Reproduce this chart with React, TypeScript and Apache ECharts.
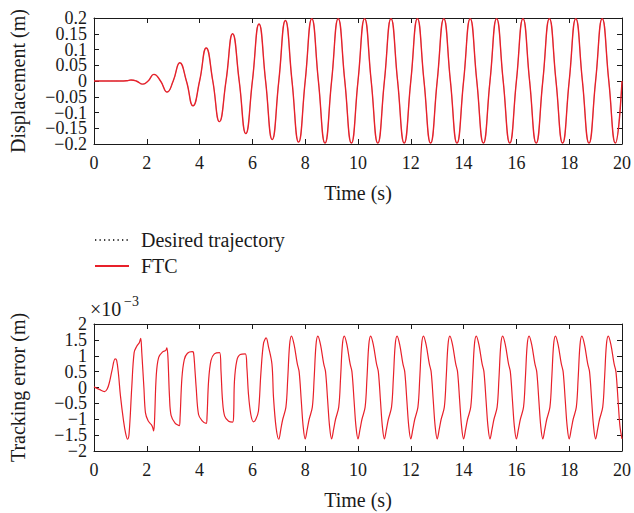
import React, { useEffect, useRef } from "react";
import * as echarts from "echarts";

const timeTicks = { min: 0, max: 20, interval: 2 };
const dispTicks = { min: -0.2, max: 0.2, interval: 0.05 };
const errTicks = { min: -2, max: 2, interval: 0.5 };

const legendNames = ["Desired trajectory", "FTC"];

const dispTime = [
  0, 0.5, 1.0, 1.25, 1.4, 1.6, 1.85, 2.05, 2.27, 2.52, 2.77,
  3.0, 3.25, 3.5, 3.75, 4.0, 4.25, 4.5, 4.75, 5.0, 5.25, 5.5, 5.75,
  6.0, 6.25, 6.5, 6.75, 7.0, 7.25, 7.5, 7.75,
  8.0, 8.25, 8.5, 8.75, 9.0, 9.25, 9.5, 9.75,
  10.0, 10.25, 10.5, 10.75, 11.0, 11.25, 11.5, 11.75,
  12.0, 12.25, 12.5, 12.75, 13.0, 13.25, 13.5, 13.75,
  14.0, 14.25, 14.5, 14.75, 15.0, 15.25, 15.5, 15.75,
  16.0, 16.25, 16.5, 16.75, 17.0, 17.25, 17.5, 17.75,
  18.0, 18.25, 18.5, 18.75, 19.0, 19.25, 19.5, 19.75, 20.0,
];
const dispValue = [
  0, 0, 0, 0.001, 0.003, 0, -0.01, 0, 0.021, 0, -0.035,
  0, 0.058, 0, -0.079, 0, 0.105, 0, -0.129, 0, 0.15, 0, -0.167,
  0, 0.181, 0, -0.186, 0, 0.192, 0, -0.194,
  0, 0.198, 0, -0.197, 0, 0.198, 0, -0.197,
  0, 0.198, 0, -0.197, 0, 0.198, 0, -0.197,
  0, 0.198, 0, -0.197, 0, 0.198, 0, -0.197,
  0, 0.198, 0, -0.197, 0, 0.198, 0, -0.197,
  0, 0.198, 0, -0.197, 0, 0.198, 0, -0.197,
  0, 0.198, 0, -0.197, 0, 0.198, 0, -0.197, 0,
];

const errTime = [
  0, 0.2, 0.4, 0.5, 0.58, 0.68, 0.8, 0.86, 0.93, 1.0, 1.12, 1.2, 1.27, 1.33,
  1.43, 1.52, 1.62, 1.72, 1.77, 1.81, 1.89, 1.95, 2.05, 2.17, 2.22, 2.26,
  2.29, 2.36, 2.45, 2.6, 2.72, 2.76, 2.8, 2.86, 2.92, 3.07, 3.23, 3.26,
  3.33, 3.42, 3.54, 3.72, 3.77, 3.82, 3.87, 3.96, 4.09, 4.25, 4.28, 4.34,
  4.43, 4.56, 4.76, 4.81, 4.87, 4.95, 5.1, 5.25, 5.29, 5.32, 5.41, 5.54,
  5.73, 5.79, 5.85, 5.94, 6.04, 6.13, 6.23, 6.32, 6.42, 6.52, 6.61, 6.74,
  6.8, 6.9, 7.0,
  7.08, 7.15, 7.27, 7.34, 7.41, 7.48, 7.58, 7.7, 7.77, 7.85, 7.92, 8.0,
  8.08, 8.15, 8.27, 8.34, 8.41, 8.48, 8.58, 8.7, 8.77, 8.85, 8.92, 9.0,
  9.08, 9.15, 9.27, 9.34, 9.41, 9.48, 9.58, 9.7, 9.77, 9.85, 9.92, 10.0,
  10.08, 10.15, 10.27, 10.34, 10.41, 10.48, 10.58, 10.7, 10.77, 10.85, 10.92, 11.0,
  11.08, 11.15, 11.27, 11.34, 11.41, 11.48, 11.58, 11.7, 11.77, 11.85, 11.92, 12.0,
  12.08, 12.15, 12.27, 12.34, 12.41, 12.48, 12.58, 12.7, 12.77, 12.85, 12.92, 13.0,
  13.08, 13.15, 13.27, 13.34, 13.41, 13.48, 13.58, 13.7, 13.77, 13.85, 13.92, 14.0,
  14.08, 14.15, 14.27, 14.34, 14.41, 14.48, 14.58, 14.7, 14.77, 14.85, 14.92, 15.0,
  15.08, 15.15, 15.27, 15.34, 15.41, 15.48, 15.58, 15.7, 15.77, 15.85, 15.92, 16.0,
  16.08, 16.15, 16.27, 16.34, 16.41, 16.48, 16.58, 16.7, 16.77, 16.85, 16.92, 17.0,
  17.08, 17.15, 17.27, 17.34, 17.41, 17.48, 17.58, 17.7, 17.77, 17.85, 17.92, 18.0,
  18.08, 18.15, 18.27, 18.34, 18.41, 18.48, 18.58, 18.7, 18.77, 18.85, 18.92, 19.0,
  19.08, 19.15, 19.27, 19.34, 19.41, 19.48, 19.58, 19.7, 19.77, 19.85, 19.92, 20.0,
];
const errValue = [
  0.02, -0.06, -0.13, -0.05, 0.15, 0.53, 0.9, 0.85, 0.4, -0.25, -1.06, -1.45, -1.63, -1.45,
  0, 1.1, 1.3, 1.42, 1.55, 1.1, 0, -0.8, -1.05, -1.17, -1.25, -1.37,
  -1.1, 0.4, 0.95, 1.12, 1.17, 1.25, 0.96, -0.3, -0.88, -1.12, -1.2, -0.95,
  0.3, 0.88, 1.08, 1.13, 1.1, 0.6, 0, -0.85, -1.04, -1.13, -0.94, 0.2,
  0.85, 1.06, 1.1, 0.53, -0.43, -0.9, -1.06, -1.09, -0.85, 0.2, 0.85, 1.04,
  1.06, 0.64, -0.2, -0.85, -1.08, -1.0, -0.74, 0.43, 1.38, 1.56, 1.28, 0.74,
  -0.32, -1.28, -1.63,
  -1.3, -1.0, -0.62, 0.3, 1.35, 1.62, 1.35, 0.75, 0.5, -0.4, -1.2, -1.62,
  -1.3, -1.0, -0.62, 0.3, 1.35, 1.62, 1.35, 0.75, 0.5, -0.4, -1.2, -1.62,
  -1.3, -1.0, -0.62, 0.3, 1.35, 1.62, 1.35, 0.75, 0.5, -0.4, -1.2, -1.62,
  -1.3, -1.0, -0.62, 0.3, 1.35, 1.62, 1.35, 0.75, 0.5, -0.4, -1.2, -1.62,
  -1.3, -1.0, -0.62, 0.3, 1.35, 1.62, 1.35, 0.75, 0.5, -0.4, -1.2, -1.62,
  -1.3, -1.0, -0.62, 0.3, 1.35, 1.62, 1.35, 0.75, 0.5, -0.4, -1.2, -1.62,
  -1.3, -1.0, -0.62, 0.3, 1.35, 1.62, 1.35, 0.75, 0.5, -0.4, -1.2, -1.62,
  -1.3, -1.0, -0.62, 0.3, 1.35, 1.62, 1.35, 0.75, 0.5, -0.4, -1.2, -1.62,
  -1.3, -1.0, -0.62, 0.3, 1.35, 1.62, 1.35, 0.75, 0.5, -0.4, -1.2, -1.62,
  -1.3, -1.0, -0.62, 0.3, 1.35, 1.62, 1.35, 0.75, 0.5, -0.4, -1.2, -1.62,
  -1.3, -1.0, -0.62, 0.3, 1.35, 1.62, 1.35, 0.75, 0.5, -0.4, -1.2, -1.62,
  -1.3, -1.0, -0.62, 0.3, 1.35, 1.62, 1.35, 0.75, 0.5, -0.4, -1.2, -1.62,
  -1.3, -1.0, -0.62, 0.3, 1.35, 1.62, 1.35, 0.75, 0.5, -0.4, -1.2, -1.62,
];

const FONT = "Liberation Serif";
const INK = "#1a1a1a";
const RED = "#e8202a";

const fmt = (v: number, digits: number) => {
  const n = Number(v.toFixed(digits));
  const s = String(Math.abs(n));
  return n < 0 ? "\u2212" + s : s;
};

export default function App() {
  const ref = useRef<HTMLDivElement>(null);

  useEffect(() => {
    if (!ref.current) return;
    const chart = echarts.init(ref.current, undefined, { renderer: "svg" });

    const axisLine = { show: true, onZero: false, lineStyle: { color: INK, width: 1 } };
    const axisTick = { show: true, inside: true, length: 5, lineStyle: { color: INK, width: 1 } };
    const label = { color: INK, fontFamily: FONT, fontSize: 18 };
    const nameStyle = { color: INK, fontFamily: FONT, fontSize: 20 };

    const topRect = { left: 94, top: 18, width: 529, height: 126 };
    const botRect = { left: 94, top: 324, width: 529, height: 127 };

    const xMain = (gridIndex: number) => ({
      type: "value",
      gridIndex,
      position: "bottom",
      ...timeTicks,
      axisLine,
      axisTick,
      splitLine: { show: false },
      axisLabel: { ...label, margin: 10, showMinLabel: true, showMaxLabel: true },
      name: "Time (s)",
      nameLocation: "middle",
      nameGap: 39,
      nameTextStyle: nameStyle,
    });
    const xMirror = (gridIndex: number) => ({
      type: "value",
      gridIndex,
      position: "top",
      ...timeTicks,
      axisLine,
      axisTick,
      splitLine: { show: false },
      axisLabel: { show: false },
    });
    const xHidden = (gridIndex: number) => ({
      type: "value",
      gridIndex,
      ...timeTicks,
      show: false,
    });
    // main left axis: all labels except the end ones (ECharts would hide their neighbours)
    const yMain = (gridIndex: number, ticks: any, name: string, digits: number) => ({
      type: "value",
      gridIndex,
      position: "left",
      ...ticks,
      axisLine,
      axisTick,
      splitLine: { show: false },
      axisLabel: {
        ...label,
        margin: 7,
        showMinLabel: false,
        showMaxLabel: false,
        formatter: (v: number) => fmt(v, digits),
      },
      name,
      nameLocation: "middle",
      nameGap: 66,
      nameRotate: 90,
      nameTextStyle: nameStyle,
    });
    // overlay left axis on an identical grid: only the end labels
    const yEnds = (gridIndex: number, ticks: any, digits: number) => ({
      type: "value",
      gridIndex,
      position: "left",
      ...ticks,
      axisLine: { show: false, onZero: false },
      axisTick: { show: false },
      splitLine: { show: false },
      axisLabel: {
        ...label,
        margin: 7,
        showMinLabel: true,
        showMaxLabel: true,
        formatter: (v: number) =>
          Math.abs(v - ticks.min) < 1e-9 || Math.abs(v - ticks.max) < 1e-9 ? fmt(v, digits) : "",
      },
    });
    const yMirror = (gridIndex: number, ticks: any) => ({
      type: "value",
      gridIndex,
      position: "right",
      ...ticks,
      axisLine,
      axisTick,
      splitLine: { show: false },
      axisLabel: { show: false },
    });

    const dispData = dispTime.map((t, i) => [t, dispValue[i]]);
    const errData = errTime.map((t, i) => [t, errValue[i]]);

    chart.setOption({
      animation: false,
      backgroundColor: "#ffffff",
      textStyle: { fontFamily: FONT },
      grid: [topRect, topRect, botRect, botRect],
      legend: {
        data: [
          {
            name: legendNames[0],
            lineStyle: { color: "#000000", width: 1.3, type: [1.3, 3.2] },
          },
          { name: legendNames[1] },
        ],
        orient: "vertical",
        left: 94,
        top: 230,
        padding: 0,
        itemWidth: 34,
        itemHeight: 14,
        itemGap: 6,
        itemStyle: { opacity: 0 },
        textStyle: { color: INK, fontFamily: FONT, fontSize: 20, padding: [0, 0, 0, 7] },
      },
      xAxis: [xMain(0), xMirror(0), xHidden(1), xMain(2), xMirror(2), xHidden(3)],
      yAxis: [
        yMain(0, dispTicks, "Displacement (m)", 2),
        yMirror(0, dispTicks),
        yEnds(1, dispTicks, 2),
        yMain(2, errTicks, "Tracking error (m)", 1),
        yMirror(2, errTicks),
        yEnds(3, errTicks, 1),
      ],
      graphic: [
        {
          type: "text",
          left: 90,
          top: 299,
          style: { text: "\u00d710", fontSize: 20, fontFamily: FONT, fill: INK },
        },
        {
          type: "text",
          left: 124,
          top: 294,
          style: { text: "\u22123", fontSize: 14, fontFamily: FONT, fill: INK },
        },
      ],
      series: [
        {
          name: "Desired trajectory",
          type: "line",
          xAxisIndex: 0,
          yAxisIndex: 0,
          data: dispData,
          smooth: 0.5,
          symbol: "none",
          lineStyle: { color: "#000000", width: 0.5, type: "dotted" },
          itemStyle: { color: "#000000" },
          z: 2,
        },
        {
          name: "FTC",
          type: "line",
          xAxisIndex: 0,
          yAxisIndex: 0,
          data: dispData,
          smooth: 0.5,
          symbol: "none",
          lineStyle: { color: RED, width: 1.4 },
          itemStyle: { color: RED },
          z: 3,
        },
        {
          name: "FTC",
          type: "line",
          xAxisIndex: 3,
          yAxisIndex: 3,
          data: errData,
          smooth: 0.35,
          symbol: "none",
          lineStyle: { color: RED, width: 1.2 },
          itemStyle: { color: RED },
          z: 3,
        },
      ],
    });

    return () => chart.dispose();
  }, []);

  return (
    <div
      ref={ref}
      style={{ position: "fixed", left: 0, top: 0, width: 634, height: 513, background: "#fff" }}
    />
  );
}
